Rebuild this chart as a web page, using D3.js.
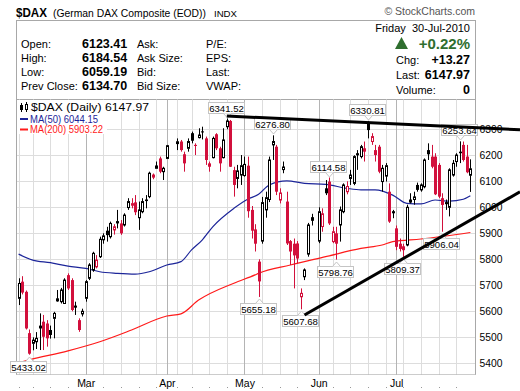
<!DOCTYPE html>
<html><head><meta charset="utf-8">
<script src="https://cdn.jsdelivr.net/npm/d3@7"></script>
<style>
html,body{margin:0;padding:0;background:#fff;}
svg{display:block;}
text{font-family:"Liberation Sans",Arial,sans-serif;}
</style></head><body>
<svg id="c" width="520" height="391"></svg>
<script>
// ---------- DATA ----------
const dates = ["2010-02-02","2010-02-03","2010-02-04","2010-02-05","2010-02-08","2010-02-09","2010-02-10","2010-02-11","2010-02-12","2010-02-15","2010-02-16","2010-02-17","2010-02-18","2010-02-19","2010-02-22","2010-02-23","2010-02-24","2010-02-25","2010-02-26",
"2010-03-01","2010-03-02","2010-03-03","2010-03-04","2010-03-05","2010-03-08","2010-03-09","2010-03-10","2010-03-11","2010-03-12","2010-03-15","2010-03-16","2010-03-17","2010-03-18","2010-03-19","2010-03-22","2010-03-23","2010-03-24","2010-03-25","2010-03-26","2010-03-29","2010-03-30","2010-03-31",
"2010-04-01","2010-04-06","2010-04-07","2010-04-08","2010-04-09","2010-04-12","2010-04-13","2010-04-14","2010-04-15","2010-04-16","2010-04-19","2010-04-20","2010-04-21","2010-04-22","2010-04-23","2010-04-26","2010-04-27","2010-04-28","2010-04-29","2010-04-30",
"2010-05-03","2010-05-04","2010-05-05","2010-05-06","2010-05-07","2010-05-10","2010-05-11","2010-05-12","2010-05-13","2010-05-14","2010-05-17","2010-05-18","2010-05-19","2010-05-20","2010-05-21","2010-05-24","2010-05-25","2010-05-26","2010-05-27","2010-05-28",
"2010-06-01","2010-06-02","2010-06-03","2010-06-04","2010-06-07","2010-06-08","2010-06-09","2010-06-10","2010-06-11","2010-06-14","2010-06-15","2010-06-16","2010-06-17","2010-06-18","2010-06-21","2010-06-22","2010-06-23","2010-06-24","2010-06-25","2010-06-28","2010-06-29","2010-06-30",
"2010-07-01","2010-07-02","2010-07-05","2010-07-06","2010-07-07","2010-07-08","2010-07-09","2010-07-12","2010-07-13","2010-07-14","2010-07-15","2010-07-16","2010-07-19","2010-07-20","2010-07-21","2010-07-22","2010-07-23","2010-07-26","2010-07-27","2010-07-28","2010-07-29","2010-07-30"];
const open = [5650,5714,5675,5516,5477,5483,5545,5560,5553,5528,5573,5640,5637,5630,5739,5720,5622,5566,5590,
5650,5727,5759,5771,5810,5875,5910,5887,5913,5940,5938,5932,5999,6008,6019,5960,5983,6030,6041,6116,6150,6188,6137,
6188,6245,6253,6204,6227,6285,6240,6268,6292,6265,6169,6191,6281,6227,6191,6310,6332,6143,6111,6124,
6122,6160,5990,5915,5791,5870,5990,6030,6240,6233,6028,6145,6022,5870,5860,5861,5656,5733,5820,5962,
5870,5926,6073,6099,5868,5900,5932,5983,6060,6111,6092,6208,6195,6227,6323,6253,6220,6233,6099,6120,6060,5985,
5919,5860,5850,5855,6020,6030,6086,6067,6079,6220,6195,6195,6163,6035,6020,6000,6124,6176,6214,6240,6195,6123.41];
const high = [5727,5735,5680,5530,5500,5520,5592,5586,5566,5545,5598,5682,5690,5727,5746,5727,5637,5573,5610,
5720,5785,5829,5816,5887,5900,5925,5945,5935,5990,5951,5977,6035,6035,6047,6022,6035,6047,6137,6130,6176,6195,6156,
6240,6265,6259,6214,6265,6291,6246,6304,6310,6272,6176,6272,6285,6233,6304,6341.52,6336,6156,6163,6201,
6195,6195,6005,5935,5800,6040,6060,6195,6276.80,6240,6073,6176,6060,5874,5880,5870,5688,5765,5940,5975,
6000,5996,6105,6114.58,5925,5925,6003,6092,6100,6144,6200,6220,6240,6253,6330.81,6285,6240,6240,6163,6170,6092,5990,
5930,5880,5860,6010,6054,6060,6095,6092,6188,6246,6240,6208,6170,6054,6030,6150,6182,6208,6253.64,6253,6240,6184.54];
const low = [5624,5665,5530,5433.02,5450,5455,5451,5451,5464,5495,5496,5637,5630,5630,5682,5600,5586,5521,5580,
5637,5720,5752,5765,5805,5860,5868,5880,5895,5919,5894,5926,5990,5996,5970,5913,5977,5996,6035,6108,6150,6131,6105,
6186,6220,6214,6137,6214,6246,6201,6265,6261,6163,6137,6188,6220,6137,6188,6300,6155,6041,6073,6086,
6118,5960,5880,5830,5655.18,5860,5960,6020,6182,6047,6015,6131,5855,5778,5688,5784,5607.68,5720,5810,5930,
5862,5906,6047,5932,5862,5798.76,5868,5977,6050,6086,6085,6144,6188,6176,6265,6240,6176,6131,6060,6099,5940,5958,
5835,5830,5809.37,5850,6015,6010,6060,6060,6073,6182,6150,6047,6035,5906.04,5990,5965,6118,6156,6170,6176,6131,6059.19];
const close = [5707,5672,5534,5437,5489,5496,5534,5502,5496,5509,5592,5648,5682,5720,5688,5605,5614,5528,5600,
5714,5778,5823,5797,5877,5890,5893,5938,5925,5945,5900,5970,6022,6014,5981,5990,6022,6024,6131,6124,6159,6137,6150,
6237,6252,6220,6169,6253,6256,6236,6278,6288,6182,6156,6265,6227,6169,6259,6332,6156,6086,6140,6160,
6165,5985,5910,5860,5715,6018,6037,6182,6253,6060,6055,6155,5861,5830,5815,5803,5669,5759,5932,5948,
5983,5975,6054,5938,5906,5860,5990,6086,6080,6124,6195,6200,6233,6214,6297,6272,6201,6137,6150,6160,5945,5977,
5848,5840,5835,6000,6028,6040,6067,6086,6182,6204,6156,6050,6041,6009,6012,6144,6169,6201,6208,6182,6134.70,6147.97];

// moving averages at sample dates
const ma50Dates = ["2010-02-02","2010-02-08","2010-02-15","2010-02-22","2010-03-01","2010-03-05","2010-03-12","2010-03-19","2010-03-25","2010-04-01","2010-04-07","2010-04-12","2010-04-15","2010-04-20","2010-04-28","2010-05-04","2010-05-07","2010-05-12","2010-05-19","2010-05-26","2010-06-03","2010-06-11","2010-06-17","2010-06-23","2010-06-30","2010-07-06","2010-07-12","2010-07-16","2010-07-22","2010-07-28","2010-07-30"];
const ma50 = [5820,5797,5787,5774,5765,5752,5746,5743,5752,5778,5791,5836,5874,5925,5996,6032,6050,6086,6102,6092,6088,6073,6067,6067,6047,6015,6013,6028,6024,6031,6044.15];
const ma200Dates = ["2010-02-02","2010-02-05","2010-02-22","2010-03-05","2010-03-18","2010-04-01","2010-04-07","2010-04-14","2010-04-28","2010-05-06","2010-05-07","2010-05-20","2010-06-03","2010-06-17","2010-06-25","2010-06-30","2010-07-12","2010-07-30"];
const ma200 = [5402,5413,5448,5483,5528,5582,5590,5643,5708,5740,5746,5778,5810,5842,5855,5868,5878,5903.22];

// trend lines drawn on the chart: [date, value] endpoints (extended to the right edge of the picture)
const trendTopDates = ["2010-04-26","2010-08-13"];
const trendTop = [6351,6301];
const trendLowDates = ["2010-05-26","2010-08-13"];
const trendLow = [5586,6028];
const trendRightPx = 520;

// annotated highs / lows
const annDates = ["2010-02-05","2010-04-26","2010-05-07","2010-05-13","2010-05-25","2010-06-04","2010-06-08","2010-06-21","2010-07-05","2010-07-20","2010-07-27"];
const annVals  = [5433.02,6341.52,5655.18,6276.80,5607.68,6114.58,5798.76,6330.81,5809.37,5906.04,6253.64];
const annKind  = ["low","high","low","high","low","high","low","high","low","low","high"];

const yTicks = [5400,5500,5600,5700,5800,5900,6000,6100,6200,6300];
const monthDates = ["2010-03-01","2010-04-01","2010-05-03","2010-06-01","2010-07-01"];
const monthLabels = ["Mar","Apr","May","Jun","Jul"];

// ---------- SETUP ----------
const svg = d3.select('#c');
const parse = d3.utcParse('%Y-%m-%d');
const base = Date.UTC(2010,2,1);
function wd(s){const days=Math.round((parse(s)-base)/864e5);const w=Math.floor(days/7);const r=days-w*7;return w*5+Math.min(r,5);}
const L=16.5, R=475.5, T=99.5, B=374.5;
const x = d3.scaleLinear().domain([-19.6,110.6]).range([16.5,476]);
const y = d3.scaleLinear().domain([5400,6300]).range([363.3,129.3]);
const px = v => Math.round(x(v))+0.5;

const RED="#d2103c", BLUE="#1c2599", MARED="#ff1a1a", GRID="#dddddd", MGRID="#b4b4b4";
const VER='"DejaVu Sans",Verdana,sans-serif';

// ---------- HEADER ----------
svg.append('text').attr('x',16).attr('y',17).attr('font-size',13.5).attr('font-weight','bold')
  .attr('textLength',31).attr('lengthAdjust','spacingAndGlyphs').text('$DAX');
svg.append('text').attr('x',53).attr('y',17).attr('font-size',10.4)
  .attr('textLength',153).attr('lengthAdjust','spacingAndGlyphs').text('(German DAX Composite (EOD))');
svg.append('text').attr('x',214).attr('y',16.5).attr('font-size',9)
  .attr('textLength',23).attr('lengthAdjust','spacingAndGlyphs').text('INDX');
svg.append('text').attr('x',475).attr('y',15).attr('font-size',10.5).attr('fill','#555').attr('text-anchor','end').text('\u00A9 StockCharts.com');

svg.append('rect').attr('x',16.5).attr('y',20.5).attr('width',459).attr('height',79).attr('fill','none').attr('stroke','#a8a8a8');

const rowsY=[47.5,61.5,75.5,89.5];
const lab1=["Open:","High:","Low:","Prev Close:"], val1=["6123.41","6184.54","6059.19","6134.70"];
const lab2=["Ask:","Ask Size:","Bid:","Bid Size:"], lab3=["P/E:","EPS:","Last:","VWAP:"];
rowsY.forEach((yy,i)=>{
  svg.append('text').attr('x',21).attr('y',yy).attr('font-size',11).text(lab1[i]);
  svg.append('text').attr('x',82).attr('y',yy).attr('font-size',12.5).attr('font-weight','bold').text(val1[i]);
  svg.append('text').attr('x',137).attr('y',yy).attr('font-size',11).text(lab2[i]);
  svg.append('text').attr('x',206).attr('y',yy).attr('font-size',11).text(lab3[i]);
});
svg.append('text').attr('x',470).attr('y',32).attr('font-size',11).attr('text-anchor','end').attr('xml:space','preserve').text('Friday  30-Jul-2010');
svg.append('path').attr('d','M395,49L401.5,37L408,49Z').attr('fill','#2f6e2f');
svg.append('text').attr('x',470).attr('y',49).attr('font-size',15).attr('font-weight','bold').attr('fill','#2f6e2f').attr('text-anchor','end').text('+0.22%');
[["Chg:","+13.27",63.5],["Last:","6147.97",78.5],["Volume:","0",93.5]].forEach(r=>{
  svg.append('text').attr('x',396).attr('y',r[2]).attr('font-size',11).text(r[0]);
  svg.append('text').attr('x',470).attr('y',r[2]).attr('font-size',12.5).attr('font-weight','bold').attr('text-anchor','end').text(r[1]);
});

// ---------- GRID ----------
const g = svg.append('g');
const idx = dates.map(wd);
const weekStarts=[], monthStarts=[];
dates.forEach((d,i)=>{
  const k=idx[i], prev=i>0?idx[i-1]:null;
  if(prev===null || Math.floor(k/5)!==Math.floor(prev/5)) weekStarts.push(k);
});
monthDates.forEach(d=>monthStarts.push(wd(d)));
const weekOnly = weekStarts.filter(k=>!monthStarts.includes(k));
g.selectAll('.hg').data(yTicks).enter().append('line')
  .attr('x1',L).attr('x2',R).attr('y1',d=>Math.round(y(d))+0.5).attr('y2',d=>Math.round(y(d))+0.5).attr('stroke',GRID);
g.selectAll('.wg').data(weekOnly).enter().append('line')
  .attr('x1',px).attr('x2',px).attr('y1',T).attr('y2',B).attr('stroke',GRID);
g.selectAll('.mg').data(monthStarts).enter().append('line')
  .attr('x1',px).attr('x2',px).attr('y1',T).attr('y2',B).attr('stroke',MGRID);

// frame
svg.append('line').attr('x1',L).attr('x2',L).attr('y1',T).attr('y2',B).attr('stroke','#a8a8a8');
svg.append('line').attr('x1',R).attr('x2',R).attr('y1',T).attr('y2',B).attr('stroke','#a8a8a8');
svg.append('line').attr('x1',L).attr('x2',R).attr('y1',B).attr('y2',B).attr('stroke','#999').attr('stroke-dasharray','1,1');

// axes
const yAx = svg.append('g').attr('transform',`translate(${R+4},0)`)
  .call(d3.axisRight(y).tickValues(yTicks).tickSize(0).tickPadding(0).tickFormat(d3.format('d')));
yAx.select('.domain').remove();
yAx.selectAll('text').attr('font-size',10.3).attr('font-family','"Liberation Sans",Arial,sans-serif').attr('fill','#000');

const xAx = svg.append('g').attr('transform',`translate(0,${B})`)
  .call(d3.axisBottom(x).tickValues(monthStarts).tickSize(0).tickPadding(5).tickFormat((d,i)=>monthLabels[i]));
xAx.select('.domain').remove();
xAx.selectAll('text').attr('font-size',10.5).attr('font-family','"Liberation Sans",Arial,sans-serif').attr('fill','#000');
svg.selectAll('.tk').data(weekStarts).enter().append('rect')
  .attr('x',d=>Math.round(x(d))).attr('y',387).attr('width',1).attr('height',1).attr('fill','#999');

// ---------- PLOT ----------
svg.append('clipPath').attr('id','pc').append('rect').attr('x',L).attr('y',T).attr('width',R-L).attr('height',B-T);
const p = svg.append('g').attr('clip-path','url(#pc)');

const lineGen = d3.line().x(d=>x(d[0])).y(d=>y(d[1])).curve(d3.curveMonotoneX);
p.append('path').datum(ma200Dates.map((d,i)=>[wd(d),ma200[i]])).attr('d',lineGen).attr('fill','none').attr('stroke',MARED).attr('stroke-width',1.2);
p.append('path').datum(ma50Dates.map((d,i)=>[wd(d),ma50[i]])).attr('d',lineGen).attr('fill','none').attr('stroke',BLUE).attr('stroke-width',1.2);

const bars = dates.map((d,i)=>({k:idx[i],o:open[i],h:high[i],l:low[i],c:close[i],pc:i>0?close[i-1]:open[i]}));
const cg = p.selectAll('.cd').data(bars).enter().append('g');
cg.append('line').attr('x1',d=>px(d.k)).attr('x2',d=>px(d.k))
  .attr('y1',d=>y(d.h)).attr('y2',d=>y(d.l))
  .attr('stroke',d=>d.c>=d.pc?'#000':RED).attr('stroke-width',1);
cg.append('rect')
  .attr('x',d=>d.c<d.o?px(d.k)-1.5:px(d.k)-1)
  .attr('width',d=>d.c<d.o?3:2)
  .attr('y',d=>y(Math.max(d.o,d.c)))
  .attr('height',d=>Math.max(1,Math.abs(y(d.o)-y(d.c))))
  .attr('fill',d=>d.c<d.o?(d.c>=d.pc?'#000':RED):'#fff')
  .attr('stroke',d=>d.c<d.o?'none':(d.c>=d.pc?'#000':RED))
  .attr('stroke-width',1);

// legend
const lg = svg.append('g');
lg.append('rect').attr('x',17).attr('y',100).attr('width',137).attr('height',12).attr('fill','#fff');
lg.append('rect').attr('x',17).attr('y',112).attr('width',90).attr('height',22).attr('fill','#fff');
lg.append('line').attr('x1',21.5).attr('x2',21.5).attr('y1',103).attr('y2',112).attr('stroke','#000');
lg.append('rect').attr('x',20).attr('y',105).attr('width',3).attr('height',5).attr('fill','#000');
lg.append('line').attr('x1',26.5).attr('x2',26.5).attr('y1',102).attr('y2',112).attr('stroke','#000');
lg.append('rect').attr('x',25.5).attr('y',104.5).attr('width',2).attr('height',5).attr('fill','#fff').attr('stroke','#000');
lg.append('text').attr('x',31).attr('y',111).attr('font-size',10.2).attr('font-family',VER)
  .attr('textLength',118).attr('lengthAdjust','spacingAndGlyphs').text('$DAX (Daily) 6147.97');
lg.append('line').attr('x1',20).attr('x2',28).attr('y1',119).attr('y2',119).attr('stroke',BLUE).attr('stroke-width',2);
lg.append('text').attr('x',30).attr('y',122.5).attr('font-size',10.2).attr('fill',BLUE).attr('font-family',VER)
  .attr('textLength',68).attr('lengthAdjust','spacingAndGlyphs').text('MA(50) 6044.15');
lg.append('line').attr('x1',20).attr('x2',28).attr('y1',129.5).attr('y2',129.5).attr('stroke',MARED).attr('stroke-width',2);
lg.append('text').attr('x',30).attr('y',133).attr('font-size',10.2).attr('fill',MARED).attr('font-family',VER)
  .attr('textLength',73).attr('lengthAdjust','spacingAndGlyphs').text('MA(200) 5903.22');

// annotations
annDates.forEach((d,i)=>{
  const cx=px(wd(d)), v=annVals[i], hi=annKind[i]==='high';
  const yy=y(v);
  const txt=d3.format('.2f')(v);
  const bw=36, bh=11, bx=Math.round(cx-2-bw/2)+0.5;
  const by= hi? Math.round(yy-6-bh)+0.5 : Math.round(yy+6)+0.5;
  const ga=svg.append('g');
  ga.append('rect').attr('x',bx).attr('y',by).attr('width',bw).attr('height',bh).attr('fill','#fff').attr('stroke','#c4c4c4');
  const ey = hi? by+bh : by;
  const ty = hi? ey+4.5 : ey-4.5;
  ga.append('path').attr('d',`M${cx-4},${ey}L${cx},${ty}L${cx+4},${ey}`).attr('fill','#fff').attr('stroke','#c4c4c4');
  ga.append('text').attr('x',bx+bw/2).attr('y',by+bh-2).attr('text-anchor','middle').attr('font-size',9.6).text(txt);
});

// trend lines
const tl = d3.line().x(d=>d[0]).y(d=>d[1]);
function trendPts(ds,vs){
  const a=[x(wd(ds[0])),y(vs[0])], b=[x(wd(ds[1])),y(vs[1])];
  const s=(b[1]-a[1])/(b[0]-a[0]);
  return [a,[trendRightPx, a[1]+s*(trendRightPx-a[0])]];
}
svg.append('path').attr('d',tl(trendPts(trendTopDates,trendTop))).attr('stroke','#000').attr('stroke-width',3).attr('fill','none');
svg.append('path').attr('d',tl(trendPts(trendLowDates,trendLow))).attr('stroke','#000').attr('stroke-width',3).attr('fill','none');
</script>
</body></html>
